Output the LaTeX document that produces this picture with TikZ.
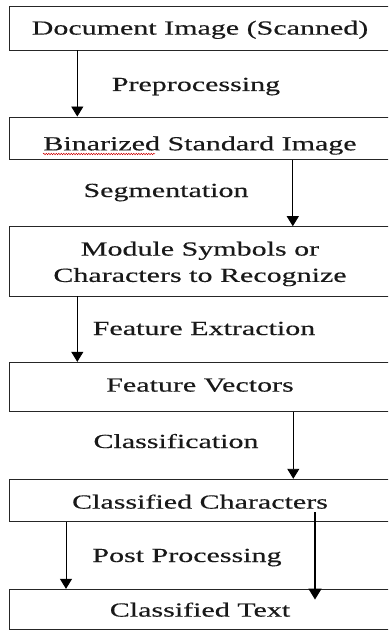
\documentclass[tikz,border=0pt]{standalone}
\usepackage{fontspec}
\setmainfont[FakeBold=0.3]{Liberation Serif}
\usetikzlibrary{arrows.meta,decorations.pathmorphing,calc}
\newcommand{\sx}[1]{\scalebox{1.5}[1]{#1}}
\begin{document}
\begin{tikzpicture}[x=1pt,y=-1pt,
  box/.style={draw=black!85, line width=0.9pt, minimum width=381pt, inner sep=0pt,
              font=\fontsize{20}{26.3}\selectfont, align=center, text=black!90},
  lbl/.style={font=\fontsize{20}{24}\selectfont, inner sep=0pt, anchor=base, text=black!90},
  arr/.style={line width=0.9pt, -{Triangle[length=10pt,width=12pt]}},
  arrb/.style={line width=1.5pt, -{Triangle[length=11pt,width=13pt]}},
]
\useasboundingbox (0,0) rectangle (388,631);
\clip (0,0) rectangle (388,631);

\node[box, minimum height=44pt, text height=16pt, text depth=2.8pt] (b1) at (200,28) {\sx{Document Image (Scanned)}};
\node[box, minimum height=42.5pt, text height=26pt, text depth=1.8pt] (b2) at (200,138.25) {\sx{Binarized Standard Image}};
\node[box, minimum height=69.3pt, text height=41.2pt, text depth=0pt] (b3) at (200,261.3) {\sx{Module Symbols or}\\\sx{Characters to Recognize}};
\node[box, minimum height=49.4pt, text height=12pt, text depth=2.8pt] (b4) at (200,387) {\sx{Feature Vectors}};
\node[box, minimum height=42.5pt, text height=19pt, text depth=2.8pt] (b5) at (200,500.5) {\sx{Classified Characters}};
\node[box, minimum height=40.2pt, text height=17pt, text depth=2.6pt] (b6) at (200,609.4) {\sx{Classified Text}};

\node[lbl] (l1) at (196,91) {\sx{Preprocessing}};
\node[lbl] (l2) at (166,197) {\sx{Segmentation}};
\node[lbl] (l3) at (204,335) {\sx{Feature Extraction}};
\node[lbl] (l4) at (176,448) {\sx{Classification}};
\node[lbl] (l5) at (187,562) {\sx{Post Processing}};

\coordinate (c1) at (77.3,0);
\coordinate (c2) at (292.8,0);
\coordinate (c3) at (77.3,0);
\coordinate (c4) at (293.3,0);
\coordinate (c5) at (66,0);
\coordinate (c6) at (315,0);

\draw[arr] (c1 |- b1.south) -- (c1 |- b2.north);
\draw[arr] (c2 |- b2.south) -- (c2 |- b3.north);
\draw[arr] (c3 |- b3.south) -- (c3 |- b4.north);
\draw[arr] (c4 |- b4.south) -- (c4 |- b5.north);
\draw[arr] (c5 |- b5.south) -- (c5 |- b6.north);
\draw[arrb] ($(c6 |- b5.south)+(0,-10)$) -- ($(c6 |- b6.north)+(0,10.7)$);

\draw[red!80!black, line width=0.5pt, decorate,
      decoration={snake, amplitude=0.7pt, segment length=2.5pt}] (43,154) -- (155,154);
\end{tikzpicture}
\end{document}
